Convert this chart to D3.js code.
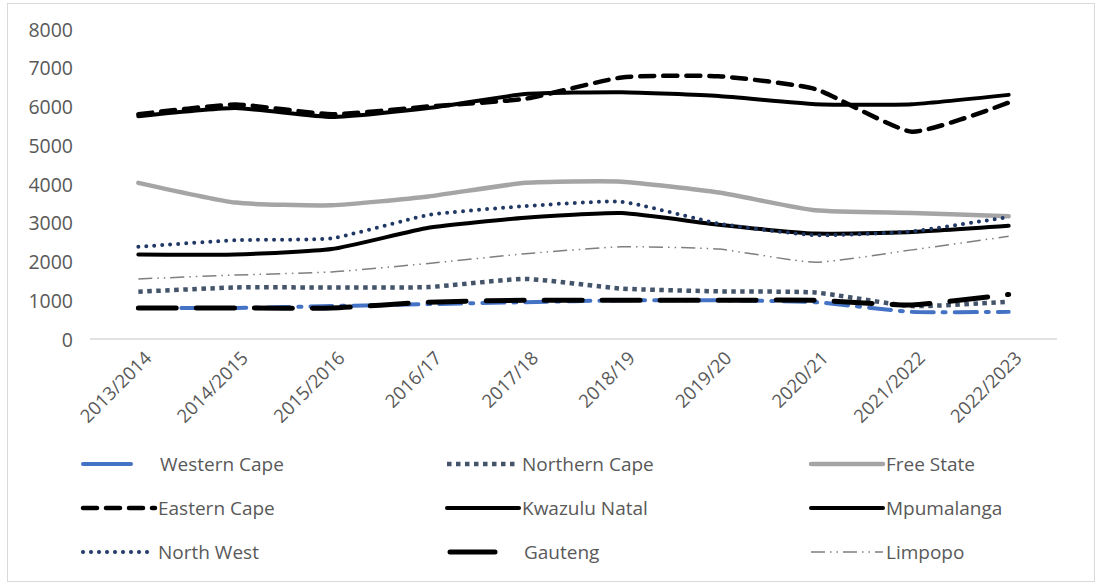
<!DOCTYPE html>
<html>
<head>
<meta charset="utf-8">
<script src="https://cdnjs.cloudflare.com/ajax/libs/d3/7.8.5/d3.min.js"></script>
<style>
body { margin: 0; background: #fff; }
svg { display: block; }
</style>
</head>
<body>
<script>
var years = ["2013/2014", "2014/2015", "2015/2016", "2016/17", "2017/18", "2018/19", "2019/20", "2020/21", "2021/2022", "2022/2023"];
var yTicks = [0, 1000, 2000, 3000, 4000, 5000, 6000, 7000, 8000];

var westernCape  = [800, 800, 850, 900, 950, 1000, 1000, 950, 700, 700];
var northernCape = [1220, 1330, 1330, 1340, 1550, 1300, 1230, 1200, 850, 960];
var freeState    = [4030, 3520, 3450, 3680, 4030, 4060, 3780, 3320, 3250, 3170];
var easternCape  = [5800, 6050, 5800, 6000, 6200, 6750, 6780, 6450, 5350, 6100];
var kwazuluNatal = [5750, 5960, 5730, 5960, 6320, 6370, 6270, 6060, 6060, 6300];
var mpumalanga   = [2180, 2180, 2320, 2870, 3130, 3250, 2950, 2720, 2760, 2920];
var northWest    = [2380, 2550, 2600, 3200, 3430, 3540, 2980, 2680, 2780, 3150];
var gauteng      = [800, 800, 800, 950, 1000, 1000, 1000, 1000, 880, 1150];
var limpopo      = [1550, 1650, 1730, 1950, 2200, 2380, 2320, 1980, 2300, 2650];

var series = [
  {name: "Western Cape", values: westernCape, color: "#4472c4", width: 4, dash: "22,9,3,9", cap: "round"},
  {name: "Northern Cape", values: northernCape, color: "#44546a", width: 4.5, dash: "4.5,4.5", cap: "butt"},
  {name: "Free State", values: freeState, color: "#a5a5a5", width: 4.5, dash: null, cap: "round"},
  {name: "Eastern Cape", values: easternCape, color: "#000000", width: 4.5, dash: "14,9", cap: "round"},
  {name: "Kwazulu Natal", values: kwazuluNatal, color: "#000000", width: 4, dash: null, cap: "round"},
  {name: "Mpumalanga", values: mpumalanga, color: "#000000", width: 4, dash: null, cap: "round"},
  {name: "North West", values: northWest, color: "#203864", width: 4, dash: "0,8", cap: "round"},
  {name: "Gauteng", values: gauteng, color: "#000000", width: 5, dash: "38,20", cap: "round"},
  {name: "Limpopo", values: limpopo, color: "#7f7f7f", width: 1.5, dash: "14,5,1.5,5,1.5,5", cap: "butt"}
];

var width = 1100, height = 586;
var font = "Open Sans, sans-serif";
var svg = d3.select("body").append("svg")
    .attr("width", width)
    .attr("height", height);

svg.append("rect")
    .attr("x", 7.5).attr("y", 3.5)
    .attr("width", 1087).attr("height", 578)
    .attr("fill", "#fff")
    .attr("stroke", "#d9d9d9");

var x = d3.scaleBand().domain(years).range([90, 1057]);
var y = d3.scaleLinear().domain([0, 8000]).range([339, 29]);
var cx = function(d, i) { return x(years[i]) + x.bandwidth() / 2; };

// y labels
svg.selectAll("text.ytick")
    .data(yTicks)
    .enter().append("text")
    .attr("class", "ytick")
    .attr("x", 73)
    .attr("y", function(d) { return y(d); })
    .attr("text-anchor", "end")
    .attr("dominant-baseline", "central")
    .attr("font-family", font)
    .attr("font-size", 19.5)
    .attr("fill", "#595959")
    .text(function(d) { return d; });

// x baseline
svg.append("line")
    .attr("x1", 90).attr("x2", 1057)
    .attr("y1", y(0)).attr("y2", y(0))
    .attr("stroke", "#d9d9d9")
    .attr("stroke-width", 1.5);

// x labels
svg.selectAll("text.xtick")
    .data(years)
    .enter().append("text")
    .attr("class", "xtick")
    .attr("transform", function(d) { return "translate(" + (x(d) + x.bandwidth() / 2 + 9) + ",354) rotate(-45)"; })
    .attr("text-anchor", "end")
    .attr("dominant-baseline", "central")
    .attr("font-family", font)
    .attr("font-size", 18.5)
    .attr("fill", "#595959")
    .text(function(d) { return d; });

var line = d3.line()
    .x(function(d, i) { return cx(d, i); })
    .y(function(d) { return y(d); })
    .curve(d3.curveCardinal.tension(0.5));

svg.selectAll("path.series")
    .data(series)
    .enter().append("path")
    .attr("class", "series")
    .attr("d", function(s) { return line(s.values); })
    .attr("fill", "none")
    .attr("stroke", function(s) { return s.color; })
    .attr("stroke-width", function(s) { return s.width; })
    .attr("stroke-dasharray", function(s) { return s.dash; })
    .attr("stroke-linecap", function(s) { return s.cap; })
    .attr("stroke-linejoin", "round");

// legend
var colX = [83, 447, 811];
var rowY = [464, 508, 552];
var lg = svg.selectAll("g.legend")
    .data(series)
    .enter().append("g")
    .attr("class", "legend")
    .attr("transform", function(s, i) { return "translate(" + colX[i % 3] + "," + rowY[Math.floor(i / 3)] + ")"; });

lg.append("line")
    .attr("x1", function(s) { return s.name == "Gauteng" ? 3 : 0; })
    .attr("x2", function(s) { return s.name == "Western Cape" || s.name == "Gauteng" ? 48 : 72; })
    .attr("y1", 0).attr("y2", 0)
    .attr("stroke", function(s) { return s.color; })
    .attr("stroke-width", function(s) { return s.width; })
    .attr("stroke-dasharray", function(s) { return s.name == "Western Cape" || s.name == "Gauteng" ? null : s.dash; })
    .attr("stroke-linecap", function(s) { return s.cap; });

lg.append("text")
    .attr("x", function(s) { return s.name == "Western Cape" || s.name == "Gauteng" ? 77 : 75; })
    .attr("y", 0)
    .attr("dominant-baseline", "central")
    .attr("font-family", font)
    .attr("font-size", 19)
    .attr("fill", "#595959")
    .text(function(s) { return s.name; });
</script>
</body>
</html>
